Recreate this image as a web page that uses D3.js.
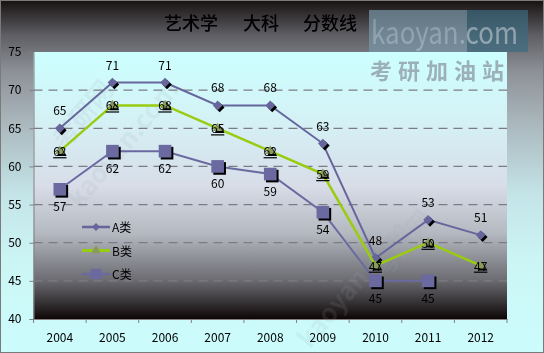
<!DOCTYPE html>
<html>
<head>
<meta charset="utf-8">
<script src="https://cdn.jsdelivr.net/npm/d3@7"></script>
<style>
  body { margin: 0; background: #fff; }
  svg { display: block; }
  text { font-family: "Noto Sans CJK SC", "DejaVu Sans", sans-serif; }
</style>
</head>
<body>
<svg id="chart"></svg>
<script>
// data
const years = ["2004", "2005", "2006", "2007", "2008", "2009", "2010", "2011", "2012"];
const seriesA = [65, 71, 71, 68, 68, 63, 48, 53, 51];
const seriesB = [62, 68, 68, 65, 62, 59, 47, 50, 47];
const seriesC = [57, 62, 62, 60, 59, 54, 45, 45, null];
const seriesNames = ["A类", "B类", "C类"];
const yTicks = [40, 45, 50, 55, 60, 65, 70, 75];

const width = 544, height = 353;
const plot = { left: 33.5, right: 507, top: 52, bottom: 319 };

const svg = d3.select("#chart").attr("width", width).attr("height", height);
const defs = svg.append("defs");

// outer background: dark on top, light cyan at the bottom
const bg = defs.append("linearGradient").attr("id", "bgGrad")
  .attr("x1", 0).attr("y1", 0).attr("x2", 0).attr("y2", 1);
[[0, "#171111"], [0.1, "#5e5e64"], [0.2, "#8c9096"], [0.35, "#aab8be"],
 [0.55, "#c4e4e8"], [0.75, "#ccf6f6"], [1, "#ccfcfc"]]
  .forEach(([o, c]) => bg.append("stop").attr("offset", o).attr("stop-color", c));

// plot area: light cyan on top, dark at the bottom
const pg = defs.append("linearGradient").attr("id", "plotGrad")
  .attr("x1", 0).attr("y1", 0).attr("x2", 0).attr("y2", 1);
[[0, "#ccffff"], [0.25, "#d4f2f6"], [0.5, "#d8dde8"], [0.68, "#b4b8c0"],
 [0.85, "#6e6e74"], [0.95, "#2e2a2c"], [1, "#0e0606"]]
  .forEach(([o, c]) => pg.append("stop").attr("offset", o).attr("stop-color", c));

svg.append("rect").attr("width", width).attr("height", height).attr("fill", "url(#bgGrad)");
svg.append("rect").attr("x", 0.5).attr("y", 0.5).attr("width", width - 1).attr("height", height - 1)
  .attr("fill", "none").attr("stroke", "#7a7a7a");

const x = d3.scaleBand().domain(years).range([plot.left, plot.right]);
const y = d3.scaleLinear().domain([40, 75]).range([plot.bottom, plot.top]);
const cx = d => x(d) + x.bandwidth() / 2;

svg.append("rect")
  .attr("x", plot.left).attr("y", plot.top)
  .attr("width", plot.right - plot.left).attr("height", plot.bottom - plot.top)
  .attr("fill", "url(#plotGrad)");

// faint diagonal watermarks
const wm = svg.append("g").attr("fill", "#9aaab4").attr("opacity", 0.13)
  .attr("font-weight", "bold");
[[90, 120, "考研网"], [410, 250, "考研网"], [360, 290, "kaoyan.com"], [130, 150, "kaoyan.com"]]
  .forEach(([px, py, t]) => {
    wm.append("text").attr("transform", `translate(${px},${py}) rotate(-50)`)
      .attr("text-anchor", "middle").attr("font-size", 26).text(t);
  });

// grid lines
svg.append("g")
  .selectAll("line")
  .data(yTicks.filter(t => t > 40 && t < 75))
  .join("line")
  .attr("x1", plot.left).attr("x2", plot.right)
  .attr("y1", d => y(d)).attr("y2", d => y(d))
  .attr("stroke", "#7c7c84").attr("stroke-width", 1.2)
  .attr("stroke-dasharray", "9,6");

// y axis
const yAxis = svg.append("g").attr("transform", `translate(${plot.left},0)`)
  .call(d3.axisLeft(y).tickValues(yTicks).tickSize(4).tickPadding(8));
yAxis.select(".domain").attr("stroke", "#808080");
yAxis.selectAll(".tick line").attr("stroke", "#808080");
yAxis.selectAll("text").attr("font-size", 12).attr("fill", "#000")
  .attr("font-family", "'DejaVu Sans', sans-serif");

// x axis
const xAxis = svg.append("g").attr("transform", `translate(0,${plot.bottom})`)
  .call(d3.axisBottom(x).tickSize(0).tickPadding(14));
xAxis.select(".domain").attr("stroke", "#808080");
xAxis.selectAll("text").attr("font-size", 12).attr("fill", "#000")
  .attr("font-family", "'DejaVu Sans', sans-serif");
svg.append("g").selectAll("line")
  .data(d3.range(years.length + 1))
  .join("line")
  .attr("x1", i => plot.left + i * x.bandwidth()).attr("x2", i => plot.left + i * x.bandwidth())
  .attr("y1", plot.bottom).attr("y2", plot.bottom + 4)
  .attr("stroke", "#808080");

// title
const title = svg.append("g").attr("font-size", 18).attr("font-weight", 500)
  .attr("fill", "#000").attr("text-anchor", "middle");
[["艺术学", 191], ["大科", 261], ["分数线", 330]].forEach(([t, tx]) => {
  title.append("text").attr("x", tx).attr("y", 30).text(t);
});

// kaoyan.com badge
const badge = svg.append("g").attr("opacity", 0.7);
badge.append("rect").attr("x", 369).attr("y", 10).attr("width", 98).attr("height", 42).attr("fill", "#7a98a8");
badge.append("rect").attr("x", 467).attr("y", 10).attr("width", 61).attr("height", 42).attr("fill", "#3c6c80");
badge.append("text").attr("transform", "translate(371,44) scale(1,1.3)").attr("font-size", 24)
  .attr("textLength", 147).attr("lengthAdjust", "spacingAndGlyphs")
  .attr("font-family", "'DejaVu Sans', sans-serif").attr("fill", "#a8c2d0").text("kaoyan.com");
svg.append("text").attr("x", 370).attr("y", 79).attr("font-size", 22).attr("font-weight", "bold")
  .attr("fill", "#9cb0b8").attr("letter-spacing", 6).text("考研加油站");

// series
const symA = d3.symbol().type(d3.symbolDiamond2).size(60);
const symB = d3.symbol().type(d3.symbolTriangle).size(40);
const symC = d3.symbol().type(d3.symbolSquare).size(160);

const series = [
  { name: seriesNames[0], values: seriesA, color: "#66669c", width: 2, sym: symA, label: "above" },
  { name: seriesNames[1], values: seriesB, color: "#99cc11", width: 2.5, sym: symB, label: "center" },
  { name: seriesNames[2], values: seriesC, color: "#6a6aa0", width: 2, sym: symC, label: "below" }
];

const line = d3.line()
  .defined(d => d.v != null)
  .x(d => cx(d.year))
  .y(d => y(d.v));

series.forEach(s => {
  const pts = years.map((yr, i) => ({ year: yr, v: s.values[i] }));
  const g = svg.append("g");
  g.append("path").datum(pts).attr("d", line)
    .attr("fill", "none").attr("stroke", s.color).attr("stroke-width", s.width);
  const valid = pts.filter(d => d.v != null);
  // marker shadow
  g.selectAll(".shadow").data(valid).join("path")
    .attr("class", "shadow")
    .attr("transform", d => `translate(${cx(d.year) + 2},${y(d.v) + 2})`)
    .attr("d", s.sym).attr("fill", "#000");
  g.selectAll(".mark").data(valid).join("path")
    .attr("class", "mark")
    .attr("transform", d => `translate(${cx(d.year)},${y(d.v)})`)
    .attr("d", s.sym)
    .attr("fill", s.name === "B类" ? "#8a9a5a" : s.color);
});

// data labels (drawn on top)
series.forEach(s => {
  const pts = years.map((yr, i) => ({ year: yr, v: s.values[i] })).filter(d => d.v != null);
  const off = s.label === "above" ? -13 : s.label === "below" ? 22 : 5;
  svg.append("g").selectAll("text").data(pts).join("text")
    .attr("x", d => cx(d.year)).attr("y", d => y(d.v) + off)
    .attr("text-anchor", "middle").attr("font-size", 12)
    .attr("font-family", "'DejaVu Sans', sans-serif")
    .attr("fill", "#000")
    .attr("text-decoration", s.label === "center" ? "underline" : null)
    .text(d => d.v);
});

// legend
const legSyms = [d3.symbol().type(d3.symbolDiamond2).size(40),
  d3.symbol().type(d3.symbolTriangle).size(40),
  d3.symbol().type(d3.symbolSquare).size(110)];
const legend = svg.append("g");
series.forEach((s, i) => {
  const ly = 227 + i * 23.5;
  legend.append("line").attr("x1", 82).attr("x2", 110).attr("y1", ly).attr("y2", ly)
    .attr("stroke", s.color).attr("stroke-width", s.width + 0.5);
  legend.append("path").attr("transform", `translate(96,${ly})`).attr("d", legSyms[i])
    .attr("fill", s.name === "B类" ? "#8a9a5a" : s.color);
  legend.append("text").attr("x", 112).attr("y", ly + 5).attr("font-size", 12)
    .attr("fill", "#000").text(s.name);
});
</script>
</body>
</html>
